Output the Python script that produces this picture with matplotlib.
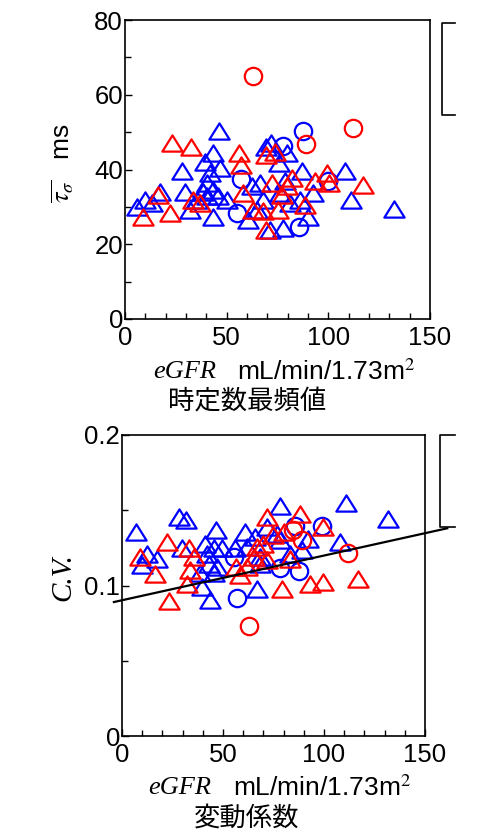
import matplotlib
matplotlib.use("Agg")
import matplotlib.pyplot as plt
import numpy as np
from matplotlib.path import Path
from matplotlib.lines import Line2D

plt.rcParams['font.family'] = ['Liberation Sans', 'Noto Sans CJK JP', 'DejaVu Sans']
plt.rcParams['mathtext.fontset'] = 'stix'

# ---------------- data: top panel (time-constant mode, ms) ----------------
top_blue_tri_x = [46.2, 43.4, 28.0, 39.3, 29.5, 17.2, 9.8, 5.7, 13.1, 32.0, 43.4, 46.7, 41.8, 40.2,
                  38.5, 43.4, 45.9, 40.2, 50.0, 35.2, 60.7, 62.3, 66.4, 68.0, 71.6, 69.5, 79.5,
                  75.9, 86.9, 78.7, 76.2, 81.1, 92.6, 108.2, 111.0, 132.3, 71.3, 77.9, 90.2, 86.1, 64.8]
top_blue_tri_y = [50.2, 44.5, 39.5, 42.1, 34.1, 34.1, 31.9, 30.1, 31.0, 29.2, 27.4, 40.4, 39.0, 36.3,
                  34.1, 34.6, 32.8, 32.8, 31.9, 31.9, 26.5, 35.5, 36.5, 31.9, 47.0, 46.1, 44.4,
                  41.7, 39.5, 36.8, 33.7, 31.0, 33.7, 39.5, 31.9, 29.4, 23.9, 24.3, 27.4, 31.9, 29.2]
top_blue_circ_x = [87.4, 77.5, 56.9, 54.9, 85.7, 100.0]
top_blue_circ_y = [50.3, 46.4, 37.4, 28.3, 24.5, 36.8]
top_red_tri_x = [23.0, 32.3, 56.1, 56.9, 69.5, 73.8, 99.2, 100.3, 93.4, 117.2, 72.1, 82.0, 79.5,
                 77.0, 58.2, 16.4, 9.0, 22.1, 33.6, 36.9, 63.1, 68.0, 75.4, 88.5, 69.5]
top_red_tri_y = [47.0, 46.1, 44.4, 41.2, 43.9, 44.8, 39.0, 36.3, 36.8, 35.9, 36.3, 37.7, 35.5,
                 33.2, 33.7, 33.2, 27.4, 28.3, 31.9, 31.0, 29.2, 28.8, 29.2, 30.6, 23.9]
top_red_circ_x = [63.1, 89.0, 112.0]
top_red_circ_y = [65.0, 46.8, 51.0]

# ---------------- data: bottom panel (coefficient of variation) ----------------
bot_blue_tri_x = [7.1, 28.0, 31.8, 12.4, 17.3, 9.9, 29.7, 46.6, 61.0, 65.9, 41.2, 45.3, 49.5, 42.0,
                  42.9, 47.0, 38.7, 45.3, 39.5, 43.7, 66.8, 78.0, 110.9, 131.9, 108.0, 92.3, 89.0,
                  83.2, 71.7, 76.6, 68.4, 78.3, 56.0, 61.8, 68.4]
bot_blue_tri_y = [0.1356, 0.1456, 0.1434, 0.1212, 0.1179, 0.1135, 0.1246, 0.1367, 0.1356, 0.1323,
                  0.1279, 0.1246, 0.1246, 0.1212, 0.1146, 0.1124, 0.1080, 0.1080, 0.0991, 0.0903,
                  0.0980, 0.1527, 0.1549, 0.1445, 0.1290, 0.1312, 0.1235, 0.1212, 0.1389, 0.1345,
                  0.1190, 0.1301, 0.1246, 0.1257, 0.1146]
bot_blue_circ_x = [56.9, 85.7, 98.9, 55.2, 87.4, 78.0]
bot_blue_circ_y = [0.0920, 0.1394, 0.1394, 0.1190, 0.1097, 0.1113]
bot_red_tri_x = [22.3, 9.1, 16.2, 23.1, 33.0, 35.4, 33.8, 32.1, 56.5, 58.2, 66.8, 71.7, 70.0, 65.1,
                 71.7, 75.0, 79.1, 88.2, 99.7, 83.2, 92.9, 99.4, 117.0, 61.8, 80.0]
bot_red_tri_y = [0.1290, 0.1190, 0.1075, 0.0896, 0.1246, 0.1190, 0.1100, 0.1013, 0.1124, 0.1069,
                 0.1257, 0.1456, 0.1279, 0.1190, 0.1168, 0.1334, 0.0980, 0.1478, 0.1390, 0.1179,
                 0.1013, 0.1020, 0.1046, 0.1124, 0.1356]
bot_red_circ_x = [63.0, 111.8, 84.9, 89.0]
bot_red_circ_y = [0.0730, 0.1219, 0.1370, 0.1300]

# regression line (bottom panel)
reg_intercept = 0.0902
reg_slope = 0.000297
reg_x_range = [-4, 161]

BLUE = '#0000ff'
RED = '#ff0000'

tri = Path([(0, 0.8), (-1, -0.8), (1, -0.8), (0, 0.8)],
           [Path.MOVETO, Path.LINETO, Path.LINETO, Path.CLOSEPOLY])

W, H = 485, 831
fig = plt.figure(figsize=(W / 100, H / 100), dpi=100)


def ax_rect(l, t, r, b):
    return [l / W, 1 - b / H, (r - l) / W, (b - t) / H]


def style(ax):
    for s in ax.spines.values():
        s.set_linewidth(1.2)
    ax.tick_params(which='both', direction='in', top=False, right=False,
                   labelsize=18.5, width=1.0)
    ax.tick_params(which='major', length=5)
    ax.tick_params(which='minor', length=4.5)
    ax.tick_params(axis='x', pad=5)
    ax.tick_params(axis='y', pad=1.5)


def draw(ax, btx, bty, bcx, bcy, rtx, rty, rcx, rcy):
    kw = dict(linestyle='none', mfc='none', mew=1.6, clip_on=False)
    ax.plot(btx, bty, marker=tri, ms=14.6, mec=BLUE, **kw)
    ax.plot(bcx, bcy, marker='o', ms=12.5, mec=BLUE, **kw)
    ax.plot(rtx, rty, marker=tri, ms=14.6, mec=RED, **kw)
    ax.plot(rcx, rcy, marker='o', ms=12.5, mec=RED, **kw)


# ---- top panel ----
ax1 = fig.add_axes(ax_rect(125, 20, 430, 319))
draw(ax1, top_blue_tri_x, top_blue_tri_y, top_blue_circ_x, top_blue_circ_y,
     top_red_tri_x, top_red_tri_y, top_red_circ_x, top_red_circ_y)
ax1.set_xlim(0, 150)
ax1.set_ylim(0, 80)
ax1.set_xticks([0, 50, 100, 150])
ax1.set_xticks(np.arange(0, 151, 10), minor=True)
ax1.set_yticks([0, 20, 40, 60, 80])
ax1.set_yticks(np.arange(0, 81, 10), minor=True)
style(ax1)

# ---- bottom panel ----
ax2 = fig.add_axes(ax_rect(122, 435, 425, 736))
draw(ax2, bot_blue_tri_x, bot_blue_tri_y, bot_blue_circ_x, bot_blue_circ_y,
     bot_red_tri_x, bot_red_tri_y, bot_red_circ_x, bot_red_circ_y)
rx = np.array(reg_x_range, dtype=float)
ax2.plot(rx, reg_intercept + reg_slope * rx, color='black', lw=1.6, clip_on=False, zorder=5)
ax2.set_xlim(0, 150)
ax2.set_ylim(0, 0.2)
ax2.set_xticks([0, 50, 100, 150])
ax2.set_xticks(np.arange(0, 151, 10), minor=True)
ax2.set_yticks([0, 0.1, 0.2])
ax2.set_yticklabels(['0', '0.1', '0.2'])
ax2.set_yticks([0.05, 0.15], minor=True)
style(ax2)


def ftext(x, y, s, **kw):
    fig.text(x / W, 1 - y / H, s, **kw)


ITAL = dict(family='Liberation Serif', style='italic')

# labels - top
ftext(63, 163, r'$\overline{\tau_{\sigma}}$   ms', rotation=90, ha='center', va='center', fontsize=19)
ftext(153, 372, 'eGFR', ha='left', va='center', fontsize=19, **ITAL)
ftext(415, 372, 'mL/min/1.73m$^2$', ha='right', va='center', fontsize=19)
ftext(247, 402, '時定数最頻値', ha='center', va='center', fontsize=19)

# labels - bottom
ftext(63, 577, 'C.V.', rotation=90, ha='center', va='center', fontsize=21, **ITAL)
ftext(148, 788, 'eGFR', ha='left', va='center', fontsize=19, **ITAL)
ftext(411, 788, 'mL/min/1.73m$^2$', ha='right', va='center', fontsize=19)
ftext(247, 818, '変動係数', ha='center', va='center', fontsize=19)


# clipped legend brackets at right edge
def bracket(l, t, b, r=455):
    xs = [r / W, l / W, l / W, r / W]
    ys = [1 - t / H, 1 - t / H, 1 - b / H, 1 - b / H]
    fig.add_artist(Line2D(xs, ys, color='black', lw=1.2))


bracket(442, 23, 115)
bracket(440, 435, 527)

fig.savefig('out.png', dpi=100)
